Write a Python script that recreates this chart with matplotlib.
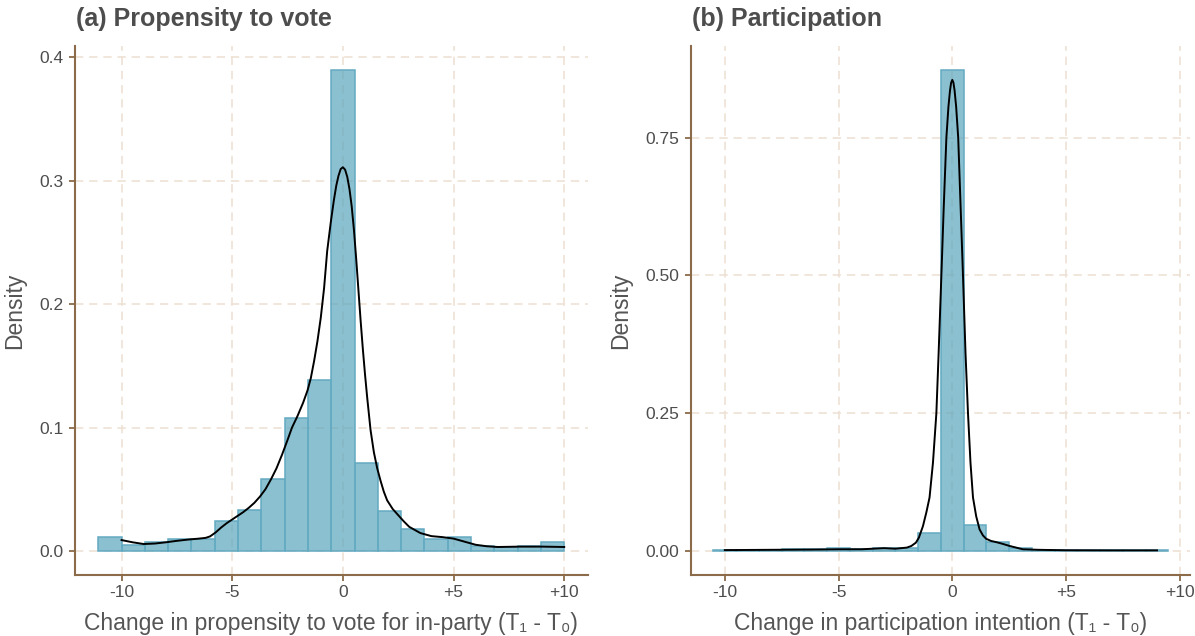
import matplotlib.pyplot as plt
import numpy as np

plt.rcParams['font.family'] = ['Liberation Sans', 'DejaVu Sans']

# (a) propensity to vote: 20 bins, width 20/19, first edge -11.05
bin_width_a = 20 / 19
bin_start_a = -10 - bin_width_a
hist_a = [0.0113, 0.0046, 0.0072, 0.0094, 0.0094, 0.0241, 0.0330, 0.0584, 0.1075, 0.1387,
          0.3900, 0.0716, 0.0324, 0.0180, 0.0094, 0.0115, 0.0038, 0.0030, 0.0038, 0.0070]
kde_a_x = [-10, -9.5, -9, -8.5, -8, -7.5, -7, -6.5, -6.2, -6, -5.75, -5.5, -5.25, -5, -4.75,
           -4.5, -4.25, -4, -3.75, -3.5, -3.25, -3, -2.75, -2.5, -2.3, -2.06, -1.8, -1.6,
           -1.45, -1.3, -1.15, -1.0, -0.85, -0.71, -0.55, -0.41, -0.3, -0.2, -0.1, 0, 0.1,
           0.2, 0.3, 0.4, 0.5, 0.6, 0.7, 0.8, 0.9, 1.0, 1.1, 1.25, 1.4, 1.55, 1.7, 1.85,
           2.0, 2.25, 2.5, 2.75, 3.0, 3.5, 4.0, 4.5, 5.0, 5.5, 6.0, 6.5, 7.0, 8.0, 9.0, 10.0]
kde_a_y = [0.0088, 0.0070, 0.0056, 0.0060, 0.0070, 0.0082, 0.0092, 0.0100, 0.0106, 0.0118,
           0.0150, 0.0190, 0.0225, 0.0255, 0.0285, 0.0315, 0.0350, 0.0390, 0.0440, 0.0500,
           0.0580, 0.0670, 0.0780, 0.0900, 0.1000, 0.1090, 0.1200, 0.1300, 0.1400, 0.1540,
           0.1700, 0.1890, 0.2130, 0.2430, 0.2660, 0.2840, 0.2960, 0.3040, 0.3095, 0.3110,
           0.3090, 0.3030, 0.2930, 0.2790, 0.2600, 0.2370, 0.2120, 0.1870, 0.1640, 0.1430,
           0.1240, 0.0980, 0.0800, 0.0670, 0.0570, 0.0480, 0.0410, 0.0340, 0.0290, 0.0240,
           0.0195, 0.0145, 0.0120, 0.0112, 0.0100, 0.0075, 0.0050, 0.0038, 0.0032, 0.0035,
           0.0035, 0.0032]

# (b) participation: 20 bins of width 1 from -10.5
bin_width_b = 1.0
bin_start_b = -10.5
hist_b = [0.002, 0.002, 0.002, 0.003, 0.003, 0.005, 0.003, 0.006, 0.006, 0.033,
          0.873, 0.0466, 0.0163, 0.006, 0.002, 0.001, 0.001, 0.001, 0.001, 0.002]
kde_b_x = [-10, -8, -6, -5, -4, -3, -2.5, -2, -1.8, -1.6, -1.47, -1.29, -1.14, -1.0, -0.85,
           -0.7, -0.6, -0.48, -0.38, -0.26, -0.17, -0.1, -0.05, 0, 0.05, 0.1, 0.17, 0.26,
           0.37, 0.47, 0.58, 0.69, 0.8, 0.91, 1.05, 1.2, 1.35, 1.49, 1.71, 1.93, 2.2, 2.52,
           3.1, 3.8, 5, 7, 9]
kde_b_y = [0.0015, 0.002, 0.0025, 0.003, 0.003, 0.005, 0.004, 0.006, 0.009, 0.015, 0.024,
           0.045, 0.070, 0.097, 0.160, 0.250, 0.360, 0.500, 0.620, 0.750, 0.806, 0.836, 0.850,
           0.855, 0.850, 0.836, 0.806, 0.750, 0.620, 0.500, 0.360, 0.250, 0.160, 0.097, 0.063,
           0.039, 0.028, 0.022, 0.018, 0.016, 0.013, 0.009, 0.003, 0.002, 0.0012, 0.001, 0.001]

x_ticks = [-10, -5, 0, 5, 10]
x_tick_labels = ['-10', '-5', '0', '+5', '+10']
y_ticks_a = [0.0, 0.1, 0.2, 0.3, 0.4]
y_tick_labels_a = ['0.0', '0.1', '0.2', '0.3', '0.4']
y_ticks_b = [0.0, 0.25, 0.5, 0.75]
y_tick_labels_b = ['0.00', '0.25', '0.50', '0.75']

fill_col = '#59a6bc'
edge_col = '#64aac2'
grid_col = '#eee1d4'
spine_col = '#8b6b4a'
text_col = '#4d4d4d'

fig = plt.figure(figsize=(11.95, 6.36), dpi=100)
ax1 = fig.add_axes([75 / 1195, 61 / 636, 512.5 / 1195, 529.3 / 636])
ax2 = fig.add_axes([690.7 / 1195, 61 / 636, 499.3 / 1195, 529.3 / 636])


def draw_panel(ax, start, width, heights, kx, ky, xlim, ylim, yt, ytl, xlabel, title):
    lefts = start + width * np.arange(len(heights))
    ax.bar(lefts, heights, width=width, align='edge', color=fill_col, alpha=0.7,
           edgecolor='none', zorder=2)
    ax.bar(lefts, heights, width=width, align='edge', fill=False,
           edgecolor=edge_col, linewidth=1.1, zorder=2)
    ax.plot(kx, ky, color='black', linewidth=1.4, zorder=3, solid_joinstyle='round')
    ax.set_xlim(*xlim)
    ax.set_ylim(*ylim)
    ax.set_xticks(x_ticks)
    ax.set_xticklabels(x_tick_labels)
    ax.set_yticks(yt)
    ax.set_yticklabels(ytl)
    ax.grid(True, color=grid_col, linestyle=(0, (5, 3.5)), linewidth=1.2, zorder=0)
    ax.set_axisbelow(True)
    for s in ['top', 'right']:
        ax.spines[s].set_visible(False)
    for s in ['left', 'bottom']:
        ax.spines[s].set_color(spine_col)
        ax.spines[s].set_linewidth(1.5)
    ax.tick_params(colors=spine_col, labelcolor=text_col, labelsize=12.5, length=4.5,
                   width=1.3)
    ax.tick_params(axis='x', pad=2.5)
    ax.tick_params(axis='y', pad=3.5)
    ax.set_xlabel(xlabel, fontsize=16.5, color='#555555', labelpad=9)
    ax.set_ylabel('Density', fontsize=16.5, color='#555555', labelpad=10)
    ax.text(0.002, 1.0 + 19.7 / 529.3, title, transform=ax.transAxes, fontsize=18,
            fontweight='bold', color=text_col, ha='left', va='baseline')


draw_panel(ax1, bin_start_a, bin_width_a, hist_a, kde_a_x, kde_a_y,
           (-12.105, 11.053), (-0.0195, 0.4095), y_ticks_a, y_tick_labels_a,
           'Change in propensity to vote for in-party (T\u2081 - T\u2080)',
           '(a) Propensity to vote')
draw_panel(ax2, bin_start_b, bin_width_b, hist_b, kde_b_x, kde_b_y,
           (-11.5, 10.45), (-0.0437, 0.917), y_ticks_b, y_tick_labels_b,
           'Change in participation intention (T\u2081 - T\u2080)',
           '(b) Participation')

fig.savefig('out.png', dpi=100)
